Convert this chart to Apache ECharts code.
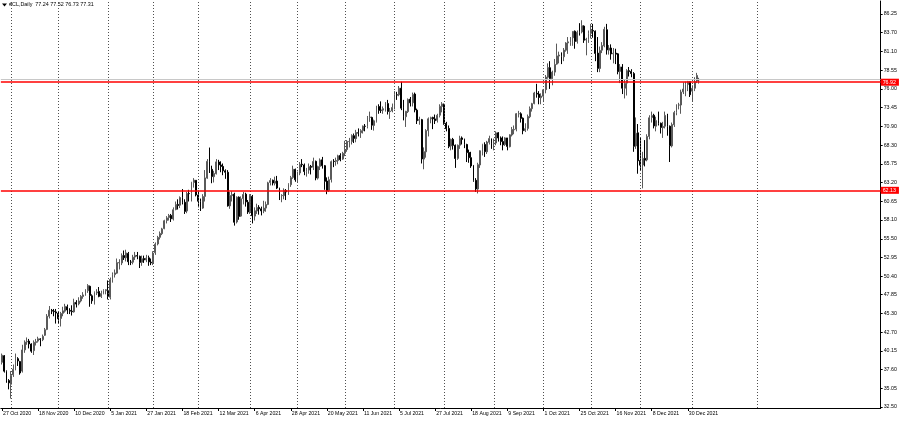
<!DOCTYPE html>
<html><head><meta charset="utf-8">
<script src="https://cdn.jsdelivr.net/npm/echarts@6/dist/echarts.min.js"></script>
<style>html,body{margin:0;padding:0;background:#fff}#c{width:900px;height:421px}</style>
</head><body><div id="c"></div>
<script>
const titleText = '#CL,Daily  77.24 77.52 76.73 77.31';
const tickLabels = ['27 Oct 2020','18 Nov 2020','10 Dec 2020','5 Jan 2021','27 Jan 2021','18 Feb 2021','12 Mar 2021','6 Apr 2021','28 Apr 2021','20 May 2021','11 Jun 2021','5 Jul 2021','27 Jul 2021','18 Aug 2021','9 Sep 2021','1 Oct 2021','25 Oct 2021','16 Nov 2021','8 Dec 2021','30 Dec 2021'];
const yTicks = [86.25,83.70,81.10,78.55,76.00,73.45,70.90,68.30,65.75,63.20,60.65,58.10,55.50,52.95,50.40,47.85,45.30,42.70,40.15,37.60,35.05,32.50];
const levels = [76.92, 62.13];
const bidPrice = 77.31;
const monthStartIdx = [4,25,47,67,87,110,131,152,174,196,218,240,261,283,306,335];

const opens = [
38.6,39.5,37.3,36.1,35.6,36.9,37.7,39.1,38.7,37.4,
40.3,41.4,41.5,41.1,40.2,41.3,41.5,41.8,41.7,42.3,
43.1,44.9,45.7,45.6,45.5,45.3,44.6,45.3,45.6,46.2,
45.7,45.6,45.5,46.8,46.6,47.0,47.6,47.8,48.4,49.0,
47.7,47.0,48.1,48.3,47.6,48.0,48.4,48.4,47.5,49.9,
50.6,50.8,52.2,52.2,53.2,52.9,53.5,52.3,52.3,53.0,
53.2,53.1,52.3,52.8,52.6,52.9,52.3,52.2,53.6,54.8,
55.7,56.2,56.9,58.0,58.4,58.7,58.2,59.5,60.2,60.1,
61.1,60.5,59.3,61.7,61.7,63.2,63.5,61.5,60.6,59.7,
61.3,63.8,66.1,65.0,64.0,64.4,66.0,65.6,65.4,64.8,
64.6,60.0,61.4,61.6,57.8,61.2,58.6,61.0,61.6,60.5,
59.2,61.3,58.6,59.3,59.8,59.6,59.3,59.7,60.2,63.2,
63.5,63.1,63.4,62.4,61.4,61.4,62.1,61.9,62.9,63.9,
65.0,63.6,64.5,65.7,65.6,64.7,64.9,65.4,65.3,66.1,
63.8,65.4,66.3,65.5,63.4,62.1,63.6,66.1,66.1,66.2,
66.9,66.4,67.2,67.7,68.8,68.8,69.6,69.2,70.0,70.0,
70.3,70.9,70.9,72.1,72.1,71.0,71.6,73.6,73.1,73.1,
73.3,74.0,72.9,73.0,73.5,75.2,75.2,76.1,73.4,72.2,
72.9,74.6,74.1,75.3,73.1,71.7,71.8,66.4,67.4,70.3,
71.9,72.1,71.9,71.7,72.4,73.6,73.9,71.3,70.6,68.2,
69.1,68.3,66.5,68.3,69.3,69.1,68.4,67.3,66.6,65.5,
63.5,62.3,65.6,67.5,68.4,67.4,68.7,69.2,68.5,68.6,
70.0,69.3,68.8,68.4,69.3,68.1,69.7,70.4,70.5,72.6,
72.6,72.0,70.3,70.6,72.2,73.3,74.0,75.4,75.3,74.8,
75.0,75.9,77.6,78.9,77.4,78.3,79.4,80.5,80.6,80.4,
81.3,82.3,82.4,83.0,83.9,82.5,83.8,83.8,84.6,82.7,
82.8,83.6,84.0,83.9,80.9,78.8,81.3,81.9,84.1,81.3,
81.6,80.8,80.9,80.8,78.4,79.0,76.1,76.8,78.5,78.4,
78.1,68.2,70.0,66.2,65.6,66.5,66.3,69.5,72.1,72.4,
70.9,71.7,71.3,70.7,70.9,72.4,70.9,68.2,71.1,72.8,
73.8,73.8,75.6,76.0,76.6,77.0,75.7,76.1,77.1,77.24];

const highs = [
39.8,39.6,37.5,36.3,37.4,38.3,39.8,39.3,38.8,41.0,
41.6,42.0,41.8,41.2,41.6,41.8,42.1,41.9,42.4,43.3,
45.2,46.3,45.9,45.9,45.9,45.5,45.5,46.2,46.6,46.5,
46.0,46.4,47.3,47.1,47.5,47.8,48.2,48.6,49.3,49.1,
47.9,48.3,48.6,48.9,48.4,48.6,48.6,49.8,50.2,50.9,
51.3,52.8,52.7,53.5,53.9,54.0,53.7,52.6,53.3,53.7,
53.7,53.2,53.2,53.2,53.3,53.2,52.8,53.8,55.0,55.9,
56.5,57.0,58.1,58.6,58.9,58.9,59.8,60.6,60.9,61.3,
62.3,60.9,61.9,62.2,63.3,63.8,63.5,62.1,61.0,61.6,
64.9,66.4,67.98,65.5,64.8,66.4,66.3,66.1,65.8,65.0,
64.9,61.9,62.0,61.8,61.3,61.3,61.3,61.9,61.8,60.8,
61.6,61.5,59.8,60.3,60.1,59.9,60.7,60.6,63.3,63.8,
63.6,64.0,64.1,62.5,61.6,62.4,62.3,63.1,64.1,65.5,
65.1,64.7,66.0,66.4,65.8,65.2,65.8,65.6,66.6,66.2,
65.5,66.5,66.7,65.6,63.9,64.0,66.2,66.4,66.6,67.0,
67.2,67.4,68.9,69.0,69.3,69.8,69.9,70.4,70.6,70.5,
71.0,71.2,72.3,72.9,72.2,71.8,73.7,73.9,74.3,73.6,
74.2,74.5,73.4,74.0,75.7,75.6,76.4,76.98,74.5,73.0,
74.7,74.9,75.5,75.5,73.3,72.2,71.9,68.0,70.5,72.1,
72.2,72.2,72.5,72.6,73.9,74.2,74.0,71.5,71.0,69.2,
69.3,68.4,68.4,69.6,69.5,69.2,68.5,67.7,67.4,65.6,
63.8,65.9,67.6,68.5,68.7,68.9,69.6,69.2,69.2,70.2,
70.1,69.5,69.5,69.4,69.3,69.8,70.8,71.0,72.7,73.0,
72.8,72.1,71.3,72.5,73.6,74.1,75.6,76.7,75.7,75.4,
76.0,77.9,79.5,79.8,78.5,80.1,82.2,81.1,81.0,81.6,
82.4,83.1,83.1,83.9,84.0,84.0,85.0,85.4,84.7,83.0,
84.0,84.9,84.9,84.0,83.1,81.8,82.4,84.5,84.9,82.0,
82.1,81.6,81.5,80.9,79.4,79.4,77.3,78.7,79.0,78.7,
78.3,72.1,71.2,69.3,67.4,69.0,69.8,72.4,72.9,72.6,
72.2,72.9,71.4,71.5,72.9,72.6,71.0,71.4,73.0,73.9,
74.1,75.9,76.9,77.0,77.1,77.0,76.5,77.6,78.2,77.52];

const lows = [
38.3,37.2,35.8,34.9,33.64,36.6,37.5,38.1,36.9,37.2,
39.9,41.0,40.5,39.9,39.6,40.9,41.3,40.8,41.5,42.2,
43.0,44.6,45.2,44.9,43.9,43.9,43.5,44.9,45.4,45.2,
45.2,45.0,45.4,46.1,46.4,46.8,47.3,47.7,48.1,46.2,
46.6,46.5,47.8,47.5,47.4,47.9,47.9,47.2,47.2,49.5,
50.2,50.7,51.3,51.9,52.6,52.4,51.9,51.9,52.0,52.6,
52.7,51.5,51.8,52.2,52.3,51.8,51.9,51.9,53.3,54.6,
55.4,56.0,56.8,57.6,58.0,57.8,58.0,59.4,59.5,59.7,
60.2,58.9,59.0,60.6,60.6,62.5,61.3,59.8,59.3,59.6,
60.6,63.7,64.5,63.1,63.2,64.3,64.9,64.6,64.2,63.7,
59.9,59.6,60.6,57.3,57.6,58.1,58.5,60.2,59.9,58.9,
58.9,57.6,58.0,58.9,58.8,58.7,59.0,59.2,60.1,62.8,
62.8,62.8,62.3,60.8,60.5,60.9,60.8,61.5,62.6,63.7,
63.3,63.2,64.2,65.3,64.2,64.0,64.4,64.3,64.9,63.5,
63.6,64.9,65.1,62.2,61.6,61.9,63.2,65.3,65.5,65.7,
66.1,66.3,66.8,67.4,68.0,68.4,68.6,68.7,69.5,69.3,
69.9,70.2,70.6,71.5,70.4,70.3,71.4,72.6,72.7,72.6,
72.9,72.5,71.9,72.8,73.2,74.5,75.0,73.1,71.7,70.8,
72.7,73.6,73.6,72.8,71.2,71.1,65.8,65.01,66.6,69.5,
71.3,70.5,71.2,71.4,72.1,72.8,71.1,70.2,67.9,67.6,
67.7,65.2,66.3,67.8,68.4,67.9,66.0,65.9,65.2,63.3,
61.9,61.7,65.2,66.9,66.7,67.1,68.4,67.8,67.6,68.3,
68.8,68.3,67.6,68.2,67.6,68.0,69.5,69.8,70.2,72.1,
71.4,69.8,70.1,70.3,72.0,72.9,73.9,74.8,73.9,73.9,
74.2,75.4,77.4,76.0,76.5,77.8,79.3,79.5,79.4,79.8,
81.1,80.8,81.9,81.9,81.5,82.2,83.3,83.6,82.3,80.6,
82.3,82.9,83.0,79.8,78.3,78.3,80.9,81.7,80.7,80.7,
80.0,79.5,79.4,78.0,76.8,75.3,74.7,75.1,77.7,77.6,
67.4,67.8,64.4,64.8,62.4,65.4,66.1,69.1,71.4,70.6,
70.2,71.0,69.9,69.3,70.6,69.6,66.0,68.0,70.8,72.4,
73.2,72.6,75.3,75.0,75.7,74.9,74.3,75.7,76.8,76.73];

const closes = [
39.57,37.39,36.17,35.79,36.81,37.66,39.15,38.79,37.14,40.29,
41.36,41.45,41.12,40.13,41.34,41.43,41.82,41.74,42.15,43.06,
44.91,45.71,45.6,45.53,45.34,44.55,45.28,45.64,46.26,45.76,
45.60,45.52,46.78,46.57,46.99,47.62,47.82,48.36,49.10,47.74,
47.02,48.12,48.23,47.62,48.00,48.40,48.52,47.62,49.93,50.63,
50.83,52.24,52.25,53.21,52.91,53.57,52.36,52.3,52.98,53.24,
53.13,52.27,52.77,52.61,52.85,52.34,52.20,53.55,54.76,55.69,
56.23,56.85,57.97,58.36,58.68,58.24,59.47,60.2,60.05,61.14,
60.52,59.24,61.70,61.67,63.22,63.53,61.50,60.64,59.75,61.28,
63.83,66.09,65.05,64.01,64.44,66.02,65.61,65.39,64.80,64.60,
60.00,61.42,61.55,57.76,61.18,58.56,60.97,61.56,60.55,59.16,
61.45,58.65,59.33,59.77,59.60,59.32,59.70,60.18,63.15,63.46,
63.13,63.38,62.44,61.35,61.43,62.14,61.91,62.94,63.86,65.01,
63.58,64.49,65.69,65.63,64.71,64.90,65.37,65.28,66.08,63.82,
65.37,66.27,65.49,63.36,62.05,63.58,66.05,66.07,66.21,66.85,
66.32,67.2,67.72,68.83,68.81,69.62,69.23,70.05,69.96,70.29,
70.91,70.88,72.12,72.15,71.04,71.64,73.66,73.06,73.08,73.30,
74.05,72.91,72.98,73.47,75.23,75.16,76.1,73.37,72.20,72.94,
74.56,74.10,75.25,73.13,71.65,71.81,66.42,67.42,70.30,71.91,
72.07,71.91,71.65,72.39,73.62,73.95,71.26,70.56,68.15,69.09,
68.28,66.48,68.29,69.25,69.09,68.44,67.29,66.59,65.46,63.50,
62.32,65.64,67.54,68.36,67.42,68.74,69.21,68.50,68.59,69.99,
69.29,68.8,68.35,69.30,68.14,69.72,70.45,70.46,72.61,72.61,
71.97,70.29,70.56,72.23,73.30,73.98,75.45,75.29,74.83,75.03,
75.88,77.62,78.93,77.43,78.30,79.35,80.52,80.64,80.44,81.31,
82.28,82.44,82.96,83.87,82.50,83.76,83.76,84.65,82.66,82.81,
83.57,84.05,83.91,80.86,78.81,81.27,81.93,84.15,81.34,81.59,
80.79,80.88,80.76,78.36,79.01,76.10,76.75,78.50,78.39,78.1,
68.15,69.95,66.18,65.57,66.50,66.26,69.49,72.05,72.36,70.94,
71.67,71.29,70.73,70.87,72.38,70.86,68.23,71.12,72.76,73.79,
73.8,75.57,75.98,76.56,76.99,75.21,76.08,76.99,77.85,77.31];

const TOTAL_SLOTS = 390;
const cats = [];
for (let i = 0; i < TOTAL_SLOTS; i++) cats.push(String(i));
const candles = opens.map((o, i) => [o, closes[i], lows[i], highs[i]]);
const isTick = (i) => i % 16 === 0 && i / 16 < tickLabels.length;
const FONT = 'Liberation Sans, Arial, sans-serif';

const mlData = [];
monthStartIdx.forEach(ix => mlData.push({
  xAxis: ix,
  lineStyle: {color: '#505050', type: [1, 2], width: 1},
  label: {show: false}
}));
mlData.push({
  yAxis: bidPrice,
  lineStyle: {color: '#c8c8c8', type: 'solid', width: 1},
  label: {show: false}
});
levels.forEach(v => mlData.push({
  yAxis: v,
  lineStyle: {color: '#ff0000', type: 'solid', width: 1.6},
  label: {
    show: true, position: 'end', distance: 0,
    formatter: v.toFixed(2), color: '#ffffff', backgroundColor: '#ff0000',
    fontSize: 5.3, fontFamily: FONT, padding: [1, 3, 1, 2]
  }
}));

const chart = echarts.init(document.getElementById('c'), null, {renderer: 'canvas'});
chart.setOption({
  animation: false,
  backgroundColor: '#ffffff',
  grid: {left: -1.73, top: 1, width: 882.4, height: 407},
  graphic: [
    {type: 'polygon', shape: {points: [[2, 3.5], [7, 3.5], [4.5, 6.5]]}, style: {fill: '#000'}},
    {type: 'text', left: 9, top: 2.5, style: {text: titleText, fontSize: 5.4, fontFamily: FONT, fill: '#000'}}
  ],
  xAxis: {
    type: 'category', data: cats, boundaryGap: true,
    axisLine: {show: true, lineStyle: {color: '#000', width: 1}},
    axisTick: {show: true, alignWithLabel: true, length: 3, interval: (i) => isTick(i), lineStyle: {color: '#000'}},
    axisLabel: {
      interval: (i) => isTick(i),
      formatter: (v, i) => tickLabels[i / 16] || '',
      fontSize: 5.2, fontFamily: FONT, color: '#000', align: 'left', margin: 3, padding: [0, 0, 0, 1]
    },
    splitLine: {show: false}
  },
  yAxis: {
    type: 'value', position: 'right', min: 32.35, max: 88.03,
    axisLine: {show: true, lineStyle: {color: '#000', width: 1}},
    axisTick: {show: true, length: 2, customValues: yTicks, lineStyle: {color: '#000'}},
    axisLabel: {customValues: yTicks, formatter: (v) => v.toFixed(2), fontSize: 5.3, fontFamily: FONT, color: '#000', margin: 3},
    splitLine: {show: false}
  },
  series: [{
    type: 'candlestick',
    data: candles,
    barWidth: 1.4,
    itemStyle: {color: '#7a7a7a', color0: '#000000', borderColor: '#5a5a5a', borderColor0: '#000000', borderWidth: 1},
    markLine: {silent: true, symbol: ['none', 'none'], animation: false, data: mlData}
  }]
});
</script></body></html>
